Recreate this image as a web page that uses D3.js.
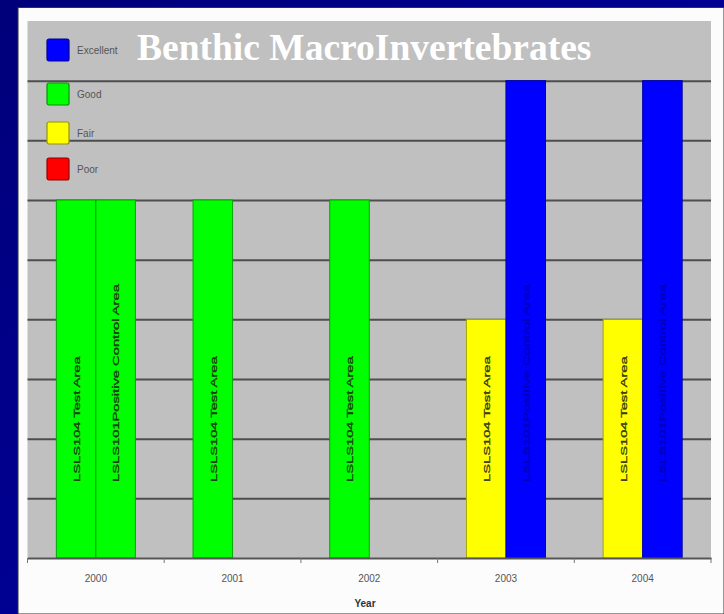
<!DOCTYPE html>
<html>
<head>
<meta charset="utf-8">
<script src="https://cdn.jsdelivr.net/npm/d3@7"></script>
<style>
  body { margin: 0; background: #000088; }
  svg { display: block; }
</style>
</head>
<body>
<script>
var years = ['2000', '2001', '2002', '2003', '2004'];
var seriesKeys = ['test', 'control'];
var testValues = [6, 6, 6, 4, 4];
var controlValues = [6, null, null, 8, 8];
var testLabels = ['LSLS104 Test Area', 'LSLS104 Test Area', 'LSLS104 Test Area', 'LSLS104 Test Area', 'LSLS104 Test Area'];
var controlLabels = ['LSLS101Positive Control Area', null, null, 'LSLS101Positive Control Area', 'LSLS101Positive Control Area'];
var ratingNames = ['Excellent', 'Good', 'Fair', 'Poor'];
var ratingValues = [8, 6, 4, 2];
var yTicks = [1, 2, 3, 4, 5, 6, 7, 8];

var ratingColor = d3.scaleOrdinal()
	.domain(ratingValues)
	.range(['#0000ff', '#00ff00', '#ffff00', '#ff0000']);

var W = 724, H = 614;
var plotLeft = 27.5, plotRight = 711, plotTop = 21, plotBottom = 558;

var svg = d3.select("body").append("svg")
	.attr("width", W)
	.attr("height", H);

// navy slide background + white chart panel
var grad = svg.append("defs").append("linearGradient")
	.attr("id", "bg").attr("x1", 0).attr("y1", 0).attr("x2", 1).attr("y2", 1);
grad.append("stop").attr("offset", 0).attr("stop-color", "#00007a");
grad.append("stop").attr("offset", 0.5).attr("stop-color", "#000092");
grad.append("stop").attr("offset", 1).attr("stop-color", "#00007e");
svg.append("rect").attr("width", W).attr("height", H).attr("fill", "url(#bg)");
svg.append("rect")
	.attr("x", 18).attr("y", 7.5).attr("width", W - 18).attr("height", H - 7.5)
	.attr("fill", "#fcfcfc").attr("stroke", "#333").attr("stroke-width", 1);

svg.append("rect")
	.attr("x", plotLeft).attr("y", plotTop)
	.attr("width", plotRight - plotLeft).attr("height", plotBottom - plotTop)
	.attr("fill", "#c0c0c0");

var x = d3.scaleBand()
	.domain(years)
	.range([plotLeft, plotRight]);

var x1 = d3.scaleBand()
	.domain(seriesKeys)
	.range([0, x.bandwidth()])
	.paddingOuter(0.73);

var y = d3.scaleLinear()
	.domain([0, 9])
	.range([plotBottom, plotTop]);

// gridlines
var grid = svg.append("g")
	.attr("transform", "translate(" + plotLeft + ",0)")
	.call(d3.axisLeft(y).tickValues(yTicks).tickSize(-(plotRight - plotLeft)).tickFormat(""));
grid.select(".domain").remove();
grid.selectAll("line").attr("stroke", "#4e4e4e").attr("stroke-width", 2);

var rows = years.map(function(d, i) {
	return [
		{ year: d, key: 'test', value: testValues[i], label: testLabels[i] },
		{ year: d, key: 'control', value: controlValues[i], label: controlLabels[i] }
	];
});
var bars = [].concat.apply([], rows).filter(function(d) { return d.value != null; });

svg.selectAll("rect.bar")
	.data(bars)
	.enter().append("rect")
		.attr("class", "bar")
		.attr("x", function(d) { return x(d.year) + x1(d.key); })
		.attr("y", function(d) { return y(d.value); })
		.attr("width", x1.bandwidth())
		.attr("height", function(d) { return plotBottom - y(d.value); })
		.attr("fill", function(d) { return ratingColor(d.value); })
		.attr("stroke", function(d) { return d3.color(ratingColor(d.value)).darker(1.2); })
		.attr("stroke-width", 1);

svg.selectAll("text.barlabel")
	.data(bars)
	.enter().append("text")
		.attr("class", "barlabel")
		.attr("transform", function(d) {
			var cx = x(d.year) + x1(d.key) + x1.bandwidth() / 2 + 0.5;
			return "translate(" + cx + "," + 482 + ") rotate(-90) scale(1.55,1)";
		})
		.attr("dy", "0.35em")
		.attr("font-family", "Liberation Sans, Arial, sans-serif")
		.attr("font-size", 9.5)
		.attr("stroke-width", 0.3)
		.attr("stroke", function(d) { return d.value == 8 ? "#0000b0" : "#1c2a10"; })
		.attr("fill", function(d) { return d.value == 8 ? "#0000b0" : "#1c2a10"; })
		.attr("fill-opacity", 0.85)
		.text(function(d) { return d.label; });

// x axis
var xAxis = svg.append("g")
	.attr("transform", "translate(0," + plotBottom + ")")
	.call(d3.axisBottom(x).tickSize(0).tickPadding(17));
xAxis.select(".domain").attr("stroke", "#555").attr("stroke-width", 2);
xAxis.selectAll("text")
	.attr("font-family", "Liberation Sans, Arial, sans-serif")
	.attr("font-size", 10)
	.attr("fill", "#555");

svg.selectAll("line.xtick")
	.data(years.concat(['end']))
	.enter().append("line")
		.attr("class", "xtick")
		.attr("x1", function(d) { return d == 'end' ? plotRight : x(d); })
		.attr("x2", function(d) { return d == 'end' ? plotRight : x(d); })
		.attr("y1", plotBottom)
		.attr("y2", plotBottom + 5)
		.attr("stroke", "#777")
		.attr("stroke-width", 1);

svg.append("text")
	.attr("x", 365)
	.attr("y", 607)
	.attr("text-anchor", "middle")
	.attr("font-family", "Liberation Sans, Arial, sans-serif")
	.attr("font-size", 10)
	.attr("font-weight", "bold")
	.attr("fill", "#333")
	.text("Year");

// legend
var legendY = [39, 83, 122, 158];
var legend = svg.selectAll("g.legend")
	.data(ratingNames)
	.enter().append("g")
		.attr("class", "legend")
		.attr("transform", function(d, i) { return "translate(47," + legendY[i] + ")"; });
legend.append("rect")
	.attr("width", 22).attr("height", 22).attr("rx", 2)
	.attr("fill", function(d, i) { return ratingColor(ratingValues[i]); })
	.attr("stroke", function(d, i) { return d3.color(ratingColor(ratingValues[i])).darker(1.5); })
	.attr("stroke-width", 1.2);
legend.append("text")
	.attr("x", 30)
	.attr("y", 11)
	.attr("dy", "0.35em")
	.attr("font-family", "Liberation Sans, Arial, sans-serif")
	.attr("font-size", 10)
	.attr("fill", "#555")
	.text(function(d) { return d; });

svg.append("text")
	.attr("x", 137)
	.attr("y", 60)
	.attr("font-family", "Liberation Serif, Times New Roman, serif")
	.attr("font-size", 37.5)
	.attr("font-weight", "bold")
	.attr("fill", "#ffffff")
	.text("Benthic MacroInvertebrates");
</script>
</body>
</html>
